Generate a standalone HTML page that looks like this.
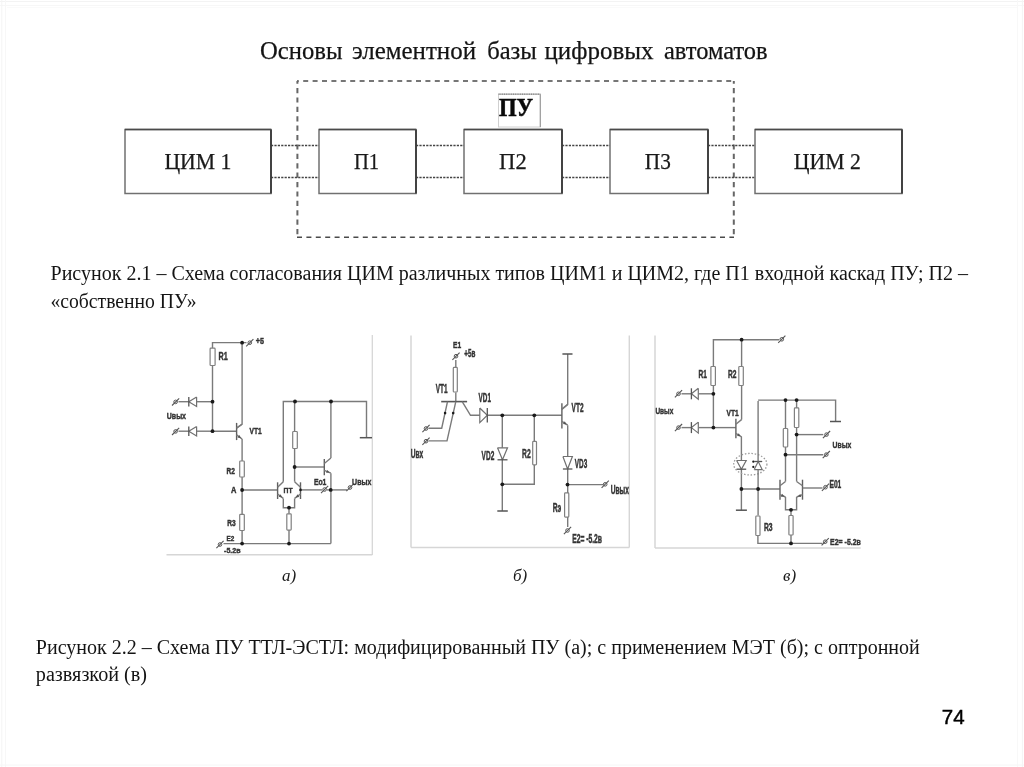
<!DOCTYPE html><html><head><meta charset="utf-8"><style>html,body{margin:0;padding:0;background:#fff;}body{width:1024px;height:767px;overflow:hidden;}svg{display:block;filter:grayscale(1);}</style></head><body>
<svg width="1024" height="767" viewBox="0 0 1024 767">
<rect width="1024" height="767" fill="#fff"/>
<line x1="0.0" y1="1.5" x2="1024.0" y2="1.5" stroke="#f3f3f3" stroke-width="1"/>
<line x1="0.0" y1="5.5" x2="1024.0" y2="5.5" stroke="#f7f7f7" stroke-width="1"/>
<line x1="7.0" y1="7.5" x2="1017.0" y2="7.5" stroke="#fafafa" stroke-width="1"/>
<line x1="1.8" y1="0.0" x2="1.8" y2="767.0" stroke="#f4f4f4" stroke-width="1"/>
<line x1="5.5" y1="0.0" x2="5.5" y2="767.0" stroke="#f7f7f7" stroke-width="1"/>
<line x1="1017.6" y1="0.0" x2="1017.6" y2="767.0" stroke="#f8f8f8" stroke-width="1"/>
<line x1="1022.4" y1="0.0" x2="1022.4" y2="767.0" stroke="#f4f4f4" stroke-width="1"/>
<line x1="0.0" y1="765.0" x2="1024.0" y2="765.0" stroke="#f6f6f6" stroke-width="1"/>
<text x="260.0" y="59.1" font-family='"Liberation Serif", serif' font-size="25.00" font-weight="normal" font-style="normal" fill="#141414" text-anchor="start" textLength="82.5" lengthAdjust="spacingAndGlyphs" stroke="#141414" stroke-width="0.25">Основы</text>
<text x="352.0" y="59.1" font-family='"Liberation Serif", serif' font-size="25.00" font-weight="normal" font-style="normal" fill="#141414" text-anchor="start" textLength="124.0" lengthAdjust="spacingAndGlyphs" stroke="#141414" stroke-width="0.25">элементной</text>
<text x="487.2" y="59.1" font-family='"Liberation Serif", serif' font-size="25.00" font-weight="normal" font-style="normal" fill="#141414" text-anchor="start" textLength="49.6" lengthAdjust="spacingAndGlyphs" stroke="#141414" stroke-width="0.25">базы</text>
<text x="544.5" y="59.1" font-family='"Liberation Serif", serif' font-size="25.00" font-weight="normal" font-style="normal" fill="#141414" text-anchor="start" textLength="109.0" lengthAdjust="spacingAndGlyphs" stroke="#141414" stroke-width="0.25">цифровых</text>
<text x="664.0" y="59.1" font-family='"Liberation Serif", serif' font-size="25.00" font-weight="normal" font-style="normal" fill="#141414" text-anchor="start" textLength="103.5" lengthAdjust="spacingAndGlyphs" stroke="#141414" stroke-width="0.25">автоматов</text>
<line x1="297.0" y1="81.0" x2="734.0" y2="81.0" stroke="#4a4a4a" stroke-width="1.5" stroke-dasharray="5,4.4" stroke-dashoffset="-6.2"/>
<line x1="297.0" y1="237.3" x2="734.0" y2="237.3" stroke="#4a4a4a" stroke-width="1.5" stroke-dasharray="5,4.4"/>
<line x1="297.4" y1="81.0" x2="297.4" y2="237.3" stroke="#666" stroke-width="2.0" stroke-dasharray="5.2,4.2" stroke-dashoffset="2.4"/>
<line x1="733.8" y1="81.0" x2="733.8" y2="237.3" stroke="#666" stroke-width="2.0" stroke-dasharray="5.2,4.2" stroke-dashoffset="2.4"/>
<line x1="271.0" y1="145.4" x2="319.0" y2="145.4" stroke="#444" stroke-width="1.5" stroke-dasharray="2.2,1.2"/>
<line x1="271.0" y1="177.6" x2="319.0" y2="177.6" stroke="#444" stroke-width="1.5" stroke-dasharray="2.2,1.2"/>
<line x1="416.0" y1="145.4" x2="464.0" y2="145.4" stroke="#444" stroke-width="1.5" stroke-dasharray="2.2,1.2"/>
<line x1="416.0" y1="177.6" x2="464.0" y2="177.6" stroke="#444" stroke-width="1.5" stroke-dasharray="2.2,1.2"/>
<line x1="562.0" y1="145.4" x2="610.0" y2="145.4" stroke="#444" stroke-width="1.5" stroke-dasharray="2.2,1.2"/>
<line x1="562.0" y1="177.6" x2="610.0" y2="177.6" stroke="#444" stroke-width="1.5" stroke-dasharray="2.2,1.2"/>
<line x1="708.0" y1="145.4" x2="755.0" y2="145.4" stroke="#444" stroke-width="1.5" stroke-dasharray="2.2,1.2"/>
<line x1="708.0" y1="177.6" x2="755.0" y2="177.6" stroke="#444" stroke-width="1.5" stroke-dasharray="2.2,1.2"/>
<rect x="125.0" y="129.5" width="146.0" height="64.0" stroke="#707070" stroke-width="1.5" fill="#fff"/>
<line x1="271.0" y1="129.5" x2="271.0" y2="193.5" stroke="#3a3a3a" stroke-width="1.8"/>
<line x1="125.0" y1="129.5" x2="271.0" y2="129.5" stroke="#4a4a4a" stroke-width="1.6"/>
<rect x="319.0" y="129.5" width="97.0" height="64.0" stroke="#707070" stroke-width="1.5" fill="#fff"/>
<line x1="416.0" y1="129.5" x2="416.0" y2="193.5" stroke="#3a3a3a" stroke-width="1.8"/>
<line x1="319.0" y1="129.5" x2="416.0" y2="129.5" stroke="#4a4a4a" stroke-width="1.6"/>
<rect x="464.0" y="129.5" width="98.0" height="64.0" stroke="#707070" stroke-width="1.5" fill="#fff"/>
<line x1="562.0" y1="129.5" x2="562.0" y2="193.5" stroke="#3a3a3a" stroke-width="1.8"/>
<line x1="464.0" y1="129.5" x2="562.0" y2="129.5" stroke="#4a4a4a" stroke-width="1.6"/>
<rect x="610.0" y="129.5" width="98.0" height="64.0" stroke="#707070" stroke-width="1.5" fill="#fff"/>
<line x1="708.0" y1="129.5" x2="708.0" y2="193.5" stroke="#3a3a3a" stroke-width="1.8"/>
<line x1="610.0" y1="129.5" x2="708.0" y2="129.5" stroke="#4a4a4a" stroke-width="1.6"/>
<rect x="755.0" y="129.5" width="147.0" height="64.0" stroke="#707070" stroke-width="1.5" fill="#fff"/>
<line x1="902.0" y1="129.5" x2="902.0" y2="193.5" stroke="#3a3a3a" stroke-width="1.8"/>
<line x1="755.0" y1="129.5" x2="902.0" y2="129.5" stroke="#4a4a4a" stroke-width="1.6"/>
<rect x="498.5" y="94.2" width="41.8" height="32.8" stroke="#d0d0d0" stroke-width="1" fill="#fff"/>
<line x1="498.5" y1="94.2" x2="540.3" y2="94.2" stroke="#777" stroke-width="1.3" stroke-dasharray="1.2,0.6"/>
<line x1="540.3" y1="94.2" x2="540.3" y2="127.0" stroke="#999" stroke-width="1.1"/>
<text x="498.9" y="115.6" font-family='"Liberation Serif", serif' font-size="24.30" font-weight="bold" font-style="normal" fill="#0a0a0a" text-anchor="start" textLength="34.2" lengthAdjust="spacingAndGlyphs" stroke="#0a0a0a" stroke-width="0.5">ПУ</text>
<text x="164.4" y="169.3" font-family='"Liberation Serif", serif' font-size="22.50" font-weight="normal" font-style="normal" fill="#1a1a1a" text-anchor="start" textLength="67.0" lengthAdjust="spacingAndGlyphs" stroke="#1a1a1a" stroke-width="0.25">ЦИМ 1</text>
<text x="353.9" y="169.3" font-family='"Liberation Serif", serif' font-size="22.50" font-weight="normal" font-style="normal" fill="#1a1a1a" text-anchor="start" textLength="25.2" lengthAdjust="spacingAndGlyphs" stroke="#1a1a1a" stroke-width="0.25">П1</text>
<text x="499.1" y="169.3" font-family='"Liberation Serif", serif' font-size="22.50" font-weight="normal" font-style="normal" fill="#1a1a1a" text-anchor="start" textLength="27.6" lengthAdjust="spacingAndGlyphs" stroke="#1a1a1a" stroke-width="0.25">П2</text>
<text x="644.8" y="169.3" font-family='"Liberation Serif", serif' font-size="22.50" font-weight="normal" font-style="normal" fill="#1a1a1a" text-anchor="start" textLength="26.0" lengthAdjust="spacingAndGlyphs" stroke="#1a1a1a" stroke-width="0.25">П3</text>
<text x="793.8" y="169.3" font-family='"Liberation Serif", serif' font-size="22.50" font-weight="normal" font-style="normal" fill="#1a1a1a" text-anchor="start" textLength="67.0" lengthAdjust="spacingAndGlyphs" stroke="#1a1a1a" stroke-width="0.25">ЦИМ 2</text>
<text x="50.5" y="280.4" font-family='"Liberation Serif", serif' font-size="20.00" font-weight="normal" font-style="normal" fill="#141414" text-anchor="start" textLength="917.5" lengthAdjust="spacingAndGlyphs">Рисунок 2.1 – Схема согласования ЦИМ различных типов ЦИМ1 и ЦИМ2, где П1 входной каскад ПУ; П2 –</text>
<text x="50.5" y="307.5" font-family='"Liberation Serif", serif' font-size="20.00" font-weight="normal" font-style="normal" fill="#141414" text-anchor="start" textLength="146.0" lengthAdjust="spacingAndGlyphs">«собственно ПУ»</text>
<text x="35.8" y="653.5" font-family='"Liberation Serif", serif' font-size="20.00" font-weight="normal" font-style="normal" fill="#141414" text-anchor="start" textLength="884.0" lengthAdjust="spacingAndGlyphs">Рисунок 2.2 – Схема ПУ ТТЛ-ЭСТЛ: модифицированный ПУ (а); с применением МЭТ (б); с оптронной</text>
<text x="35.8" y="680.5" font-family='"Liberation Serif", serif' font-size="20.00" font-weight="normal" font-style="normal" fill="#141414" text-anchor="start" textLength="111.3" lengthAdjust="spacingAndGlyphs">развязкой (в)</text>
<text x="282.0" y="580.8" font-family='"Liberation Serif", serif' font-size="17.00" font-weight="normal" font-style="italic" fill="#1a1a1a" text-anchor="start">а)</text>
<text x="513.0" y="580.8" font-family='"Liberation Serif", serif' font-size="17.00" font-weight="normal" font-style="italic" fill="#1a1a1a" text-anchor="start">б)</text>
<text x="783.0" y="580.8" font-family='"Liberation Serif", serif' font-size="17.00" font-weight="normal" font-style="italic" fill="#1a1a1a" text-anchor="start">в)</text>
<text x="941.8" y="724.4" font-family='"Liberation Sans", sans-serif' font-size="20.50" font-weight="normal" font-style="normal" fill="#000" text-anchor="start" stroke="#000" stroke-width="0.45">74</text>
<line x1="372.3" y1="335.0" x2="372.3" y2="555.0" stroke="#d6d6d6" stroke-width="1.3"/>
<line x1="166.5" y1="554.8" x2="372.3" y2="554.8" stroke="#d6d6d6" stroke-width="1.6"/>
<polyline points="212.5,348.0 212.5,342.6 242.1,342.6 246.5,342.6" stroke="#7a7a7a" stroke-width="1.4" fill="none" stroke-linejoin="miter"/>
<polyline points="242.1,342.6 242.1,424.2 236.6,428.0" stroke="#7a7a7a" stroke-width="1.4" fill="none" stroke-linejoin="miter"/>
<circle cx="249.8" cy="342.7" r="1.8" stroke="#555" stroke-width="1" fill="none"/>
<line x1="246.2" y1="346.3" x2="253.4" y2="339.1" stroke="#555" stroke-width="1.1"/>
<text x="255.7" y="344.1" font-family='"Liberation Sans", sans-serif' font-size="9.50" font-weight="bold" font-style="normal" fill="#333" text-anchor="start" textLength="8.2" lengthAdjust="spacingAndGlyphs" stroke="#333" stroke-width="0.44">+5</text>
<rect x="210.1" y="348.1" width="5.0" height="17.4" stroke="#808080" stroke-width="1.2" fill="#fff" rx="0.8"/>
<text x="218.6" y="360.0" font-family='"Liberation Sans", sans-serif' font-size="11.03" font-weight="bold" font-style="normal" fill="#333" text-anchor="start" textLength="9.2" lengthAdjust="spacingAndGlyphs" stroke="#333" stroke-width="0.47">R1</text>
<polyline points="212.5,366.0 212.5,431.2 236.6,431.2" stroke="#7a7a7a" stroke-width="1.4" fill="none" stroke-linejoin="miter"/>
<polyline points="178.5,401.7 188.8,401.7" stroke="#7a7a7a" stroke-width="1.4" fill="none" stroke-linejoin="miter"/>
<polyline points="196.6,396.9 196.6,406.4 188.8,401.7 196.6,396.9" stroke="#707070" stroke-width="1.2" fill="#fff" stroke-linejoin="miter"/>
<line x1="188.8" y1="396.9" x2="188.8" y2="406.4" stroke="#555" stroke-width="1.3"/>
<polyline points="196.6,401.7 212.5,401.7" stroke="#7a7a7a" stroke-width="1.4" fill="none" stroke-linejoin="miter"/>
<circle cx="175.6" cy="401.9" r="1.8" stroke="#555" stroke-width="1" fill="none"/>
<line x1="172.0" y1="405.5" x2="179.2" y2="398.3" stroke="#555" stroke-width="1.1"/>
<polyline points="178.5,431.2 188.8,431.2" stroke="#7a7a7a" stroke-width="1.4" fill="none" stroke-linejoin="miter"/>
<polyline points="196.6,426.4 196.6,435.9 188.8,431.2 196.6,426.4" stroke="#707070" stroke-width="1.2" fill="#fff" stroke-linejoin="miter"/>
<line x1="188.8" y1="426.4" x2="188.8" y2="435.9" stroke="#555" stroke-width="1.3"/>
<polyline points="196.6,431.2 212.5,431.2" stroke="#7a7a7a" stroke-width="1.4" fill="none" stroke-linejoin="miter"/>
<circle cx="175.6" cy="431.4" r="1.8" stroke="#555" stroke-width="1" fill="none"/>
<line x1="172.0" y1="435.0" x2="179.2" y2="427.8" stroke="#555" stroke-width="1.1"/>
<text x="166.8" y="418.5" font-family='"Liberation Sans", sans-serif' font-size="9.50" font-weight="bold" font-style="normal" fill="#333" text-anchor="start" textLength="19.2" lengthAdjust="spacingAndGlyphs" stroke="#333" stroke-width="0.44">Uвых</text>
<line x1="236.6" y1="422.9" x2="236.6" y2="440.1" stroke="#606060" stroke-width="1.4"/>
<line x1="236.6" y1="428.1" x2="242.1" y2="424.2" stroke="#7a7a7a" stroke-width="1.4"/>
<line x1="236.6" y1="434.9" x2="242.1" y2="439.0" stroke="#7a7a7a" stroke-width="1.4"/>
<polygon points="241.0,438.2 237.5,437.6 239.4,435.0" fill="#555"/>
<text x="249.5" y="433.5" font-family='"Liberation Sans", sans-serif' font-size="9.50" font-weight="bold" font-style="normal" fill="#333" text-anchor="start" textLength="12.2" lengthAdjust="spacingAndGlyphs" stroke="#333" stroke-width="0.44">VT1</text>
<polyline points="242.1,439.0 242.1,543.6" stroke="#7a7a7a" stroke-width="1.4" fill="none" stroke-linejoin="miter"/>
<rect x="239.7" y="461.0" width="4.6" height="16.0" stroke="#808080" stroke-width="1.2" fill="#fff" rx="0.8"/>
<text x="226.6" y="474.2" font-family='"Liberation Sans", sans-serif' font-size="8.38" font-weight="bold" font-style="normal" fill="#333" text-anchor="start" textLength="8.4" lengthAdjust="spacingAndGlyphs" stroke="#333" stroke-width="0.42">R2</text>
<text x="230.9" y="492.9" font-family='"Liberation Sans", sans-serif' font-size="8.24" font-weight="bold" font-style="normal" fill="#333" text-anchor="start" textLength="5.4" lengthAdjust="spacingAndGlyphs" stroke="#333" stroke-width="0.41">A</text>
<polyline points="242.1,490.0 277.6,490.0" stroke="#7a7a7a" stroke-width="1.4" fill="none" stroke-linejoin="miter"/>
<rect x="239.7" y="514.4" width="4.6" height="16.1" stroke="#808080" stroke-width="1.2" fill="#fff" rx="0.8"/>
<text x="227.2" y="526.1" font-family='"Liberation Sans", sans-serif' font-size="8.24" font-weight="bold" font-style="normal" fill="#333" text-anchor="start" textLength="8.4" lengthAdjust="spacingAndGlyphs" stroke="#333" stroke-width="0.41">R3</text>
<text x="226.6" y="540.9" font-family='"Liberation Sans", sans-serif' font-size="8.10" font-weight="bold" font-style="normal" fill="#333" text-anchor="start" textLength="7.8" lengthAdjust="spacingAndGlyphs" stroke="#333" stroke-width="0.41">E2</text>
<text x="224.1" y="552.7" font-family='"Liberation Sans", sans-serif' font-size="8.10" font-weight="bold" font-style="normal" fill="#333" text-anchor="start" textLength="16.5" lengthAdjust="spacingAndGlyphs" stroke="#333" stroke-width="0.41">-5.2в</text>
<circle cx="220.0" cy="544.5" r="1.8" stroke="#555" stroke-width="1" fill="none"/>
<line x1="216.4" y1="548.1" x2="223.6" y2="540.9" stroke="#555" stroke-width="1.1"/>
<polyline points="223.5,543.6 330.9,543.6" stroke="#7a7a7a" stroke-width="1.4" fill="none" stroke-linejoin="miter"/>
<line x1="277.6" y1="482.3" x2="277.6" y2="499.0" stroke="#606060" stroke-width="1.4"/>
<line x1="277.6" y1="487.3" x2="283.3" y2="481.7" stroke="#7a7a7a" stroke-width="1.4"/>
<line x1="277.6" y1="494.0" x2="283.3" y2="498.4" stroke="#7a7a7a" stroke-width="1.4"/>
<polygon points="282.2,497.5 278.6,496.8 280.6,494.3" fill="#555"/>
<line x1="300.5" y1="482.3" x2="300.5" y2="499.0" stroke="#606060" stroke-width="1.4"/>
<line x1="300.5" y1="487.3" x2="294.6" y2="481.7" stroke="#7a7a7a" stroke-width="1.4"/>
<line x1="300.5" y1="494.0" x2="294.6" y2="498.4" stroke="#7a7a7a" stroke-width="1.4"/>
<polygon points="295.8,497.5 297.4,494.3 299.3,496.9" fill="#555"/>
<polyline points="283.3,498.4 283.3,507.7 294.6,507.7 294.6,498.4" stroke="#7a7a7a" stroke-width="1.4" fill="none" stroke-linejoin="miter"/>
<polyline points="289.0,507.7 289.0,543.6" stroke="#7a7a7a" stroke-width="1.4" fill="none" stroke-linejoin="miter"/>
<rect x="286.8" y="513.8" width="4.4" height="16.3" stroke="#808080" stroke-width="1.2" fill="#fff" rx="0.8"/>
<text x="283.6" y="493.2" font-family='"Liberation Sans", sans-serif' font-size="8.10" font-weight="bold" font-style="normal" fill="#333" text-anchor="start" textLength="9.0" lengthAdjust="spacingAndGlyphs" stroke="#333" stroke-width="0.41">ПТ</text>
<polyline points="283.3,481.7 283.3,401.5 366.5,401.5 366.5,437.7" stroke="#7a7a7a" stroke-width="1.4" fill="none" stroke-linejoin="miter"/>
<line x1="359.8" y1="437.7" x2="372.0" y2="437.7" stroke="#555" stroke-width="1.5"/>
<polyline points="294.6,401.5 294.6,481.7" stroke="#7a7a7a" stroke-width="1.4" fill="none" stroke-linejoin="miter"/>
<rect x="292.7" y="431.5" width="4.6" height="17.0" stroke="#808080" stroke-width="1.2" fill="#fff" rx="0.8"/>
<polyline points="294.6,467.0 324.3,467.0" stroke="#7a7a7a" stroke-width="1.4" fill="none" stroke-linejoin="miter"/>
<line x1="324.3" y1="459.0" x2="324.3" y2="475.2" stroke="#606060" stroke-width="1.4"/>
<line x1="324.3" y1="463.5" x2="330.9" y2="458.0" stroke="#7a7a7a" stroke-width="1.4"/>
<line x1="324.3" y1="470.3" x2="330.9" y2="473.2" stroke="#7a7a7a" stroke-width="1.4"/>
<polygon points="329.6,472.6 326.0,472.8 327.3,469.9" fill="#555"/>
<polyline points="330.9,458.0 330.9,401.5" stroke="#7a7a7a" stroke-width="1.4" fill="none" stroke-linejoin="miter"/>
<polyline points="330.9,473.2 330.9,543.6" stroke="#7a7a7a" stroke-width="1.4" fill="none" stroke-linejoin="miter"/>
<polyline points="300.5,489.9 322.0,489.9" stroke="#7a7a7a" stroke-width="1.4" fill="none" stroke-linejoin="miter"/>
<polyline points="327.0,489.9 347.0,489.9" stroke="#7a7a7a" stroke-width="1.4" fill="none" stroke-linejoin="miter"/>
<circle cx="324.6" cy="489.5" r="1.8" stroke="#555" stroke-width="1" fill="none"/>
<line x1="321.0" y1="493.1" x2="328.2" y2="485.9" stroke="#555" stroke-width="1.1"/>
<circle cx="350.0" cy="487.5" r="1.8" stroke="#555" stroke-width="1" fill="none"/>
<line x1="346.4" y1="491.1" x2="353.6" y2="483.9" stroke="#555" stroke-width="1.1"/>
<text x="313.9" y="484.9" font-family='"Liberation Sans", sans-serif' font-size="9.22" font-weight="bold" font-style="normal" fill="#333" text-anchor="start" textLength="12.5" lengthAdjust="spacingAndGlyphs" stroke="#333" stroke-width="0.43">Eо1</text>
<text x="352.1" y="484.5" font-family='"Liberation Sans", sans-serif' font-size="9.22" font-weight="bold" font-style="normal" fill="#333" text-anchor="start" textLength="19.2" lengthAdjust="spacingAndGlyphs" stroke="#333" stroke-width="0.43">Uвых</text>
<line x1="411.0" y1="335.5" x2="411.0" y2="547.5" stroke="#d6d6d6" stroke-width="1.5"/>
<line x1="411.0" y1="547.5" x2="629.3" y2="547.5" stroke="#d6d6d6" stroke-width="1.6"/>
<line x1="629.3" y1="335.5" x2="629.3" y2="547.5" stroke="#d6d6d6" stroke-width="1.4"/>
<text x="453.1" y="347.7" font-family='"Liberation Sans", sans-serif' font-size="8.94" font-weight="bold" font-style="normal" fill="#333" text-anchor="start" textLength="8.1" lengthAdjust="spacingAndGlyphs" stroke="#333" stroke-width="0.43">E1</text>
<text x="464.3" y="356.8" font-family='"Liberation Sans", sans-serif' font-size="10.20" font-weight="bold" font-style="normal" fill="#333" text-anchor="start" textLength="11.1" lengthAdjust="spacingAndGlyphs" stroke="#333" stroke-width="0.45">+5в</text>
<circle cx="456.0" cy="356.2" r="1.8" stroke="#555" stroke-width="1" fill="none"/>
<line x1="452.4" y1="359.8" x2="459.6" y2="352.6" stroke="#555" stroke-width="1.1"/>
<polyline points="455.8,360.0 455.8,367.0" stroke="#7a7a7a" stroke-width="1.4" fill="none" stroke-linejoin="miter"/>
<rect x="453.3" y="367.4" width="4.0" height="24.6" stroke="#808080" stroke-width="1.2" fill="#fff" rx="0.8"/>
<polyline points="455.8,392.5 455.8,401.6" stroke="#7a7a7a" stroke-width="1.4" fill="none" stroke-linejoin="miter"/>
<text x="435.7" y="392.9" font-family='"Liberation Sans", sans-serif' font-size="12.71" font-weight="bold" font-style="normal" fill="#333" text-anchor="start" textLength="11.8" lengthAdjust="spacingAndGlyphs" stroke="#333" stroke-width="0.50">VT1</text>
<line x1="441.2" y1="401.6" x2="467.1" y2="401.6" stroke="#555" stroke-width="1.6"/>
<polyline points="462.2,401.6 470.5,415.3 561.9,415.3" stroke="#7a7a7a" stroke-width="1.4" fill="none" stroke-linejoin="miter"/>
<polyline points="447.5,401.6 441.7,428.2 428.5,428.2" stroke="#7a7a7a" stroke-width="1.4" fill="none" stroke-linejoin="miter"/>
<polyline points="455.8,401.6 447.0,440.9 428.5,440.9" stroke="#7a7a7a" stroke-width="1.4" fill="none" stroke-linejoin="miter"/>
<circle cx="426.0" cy="428.5" r="1.8" stroke="#555" stroke-width="1" fill="none"/>
<line x1="422.4" y1="432.1" x2="429.6" y2="424.9" stroke="#555" stroke-width="1.1"/>
<circle cx="426.0" cy="441.2" r="1.8" stroke="#555" stroke-width="1" fill="none"/>
<line x1="422.4" y1="444.8" x2="429.6" y2="437.6" stroke="#555" stroke-width="1.1"/>
<text x="410.8" y="458.4" font-family='"Liberation Sans", sans-serif' font-size="12.85" font-weight="bold" font-style="normal" fill="#333" text-anchor="start" textLength="12.5" lengthAdjust="spacingAndGlyphs" stroke="#333" stroke-width="0.51">Uвх</text>
<polyline points="479.8,408.0 479.8,422.6 487.3,415.3 479.8,408.0" stroke="#707070" stroke-width="1.2" fill="#fff" stroke-linejoin="miter"/>
<line x1="487.3" y1="408.0" x2="487.3" y2="422.6" stroke="#555" stroke-width="1.3"/>
<text x="478.6" y="401.5" font-family='"Liberation Sans", sans-serif' font-size="12.71" font-weight="bold" font-style="normal" fill="#333" text-anchor="start" textLength="12.3" lengthAdjust="spacingAndGlyphs" stroke="#333" stroke-width="0.50">VD1</text>
<polyline points="502.3,415.3 502.3,511.0" stroke="#7a7a7a" stroke-width="1.4" fill="none" stroke-linejoin="miter"/>
<line x1="497.3" y1="511.0" x2="507.8" y2="511.0" stroke="#555" stroke-width="1.5"/>
<polyline points="497.5,447.8 507.5,447.8 502.5,459.8 497.5,447.8" stroke="#707070" stroke-width="1.2" fill="#fff" stroke-linejoin="miter"/>
<line x1="497.5" y1="459.8" x2="507.5" y2="459.8" stroke="#555" stroke-width="1.3"/>
<text x="481.6" y="459.9" font-family='"Liberation Sans", sans-serif' font-size="13.41" font-weight="bold" font-style="normal" fill="#333" text-anchor="start" textLength="12.7" lengthAdjust="spacingAndGlyphs" stroke="#333" stroke-width="0.52">VD2</text>
<polyline points="534.3,415.3 534.3,484.3 502.3,484.3" stroke="#7a7a7a" stroke-width="1.4" fill="none" stroke-linejoin="miter"/>
<rect x="532.7" y="441.4" width="3.8" height="23.5" stroke="#808080" stroke-width="1.2" fill="#fff" rx="0.8"/>
<text x="522.1" y="458.0" font-family='"Liberation Sans", sans-serif' font-size="12.99" font-weight="bold" font-style="normal" fill="#333" text-anchor="start" textLength="8.7" lengthAdjust="spacingAndGlyphs" stroke="#333" stroke-width="0.51">R2</text>
<polyline points="567.7,354.0 567.7,404.4 561.9,409.0" stroke="#7a7a7a" stroke-width="1.4" fill="none" stroke-linejoin="miter"/>
<line x1="562.4" y1="354.0" x2="572.5" y2="354.0" stroke="#555" stroke-width="1.5"/>
<line x1="561.9" y1="403.3" x2="561.9" y2="428.4" stroke="#606060" stroke-width="1.4"/>
<line x1="561.9" y1="409.6" x2="567.7" y2="404.4" stroke="#7a7a7a" stroke-width="1.4"/>
<line x1="561.9" y1="421.4" x2="567.7" y2="425.2" stroke="#7a7a7a" stroke-width="1.4"/>
<polygon points="566.5,424.4 563.0,424.0 564.8,421.3" fill="#555"/>
<text x="571.6" y="412.1" font-family='"Liberation Sans", sans-serif' font-size="12.15" font-weight="bold" font-style="normal" fill="#333" text-anchor="start" textLength="11.9" lengthAdjust="spacingAndGlyphs" stroke="#333" stroke-width="0.49">VT2</text>
<polyline points="567.7,425.2 567.7,527.0" stroke="#7a7a7a" stroke-width="1.4" fill="none" stroke-linejoin="miter"/>
<polyline points="562.9,456.5 572.4,456.5 567.6,469.0 562.9,456.5" stroke="#707070" stroke-width="1.2" fill="#fff" stroke-linejoin="miter"/>
<line x1="562.9" y1="469.0" x2="572.4" y2="469.0" stroke="#555" stroke-width="1.3"/>
<text x="574.8" y="467.9" font-family='"Liberation Sans", sans-serif' font-size="13.69" font-weight="bold" font-style="normal" fill="#333" text-anchor="start" textLength="12.4" lengthAdjust="spacingAndGlyphs" stroke="#333" stroke-width="0.52">VD3</text>
<polyline points="567.5,484.6 603.0,484.6" stroke="#7a7a7a" stroke-width="1.4" fill="none" stroke-linejoin="miter"/>
<circle cx="605.2" cy="484.3" r="1.8" stroke="#555" stroke-width="1" fill="none"/>
<line x1="601.6" y1="487.9" x2="608.8" y2="480.7" stroke="#555" stroke-width="1.1"/>
<text x="610.8" y="494.0" font-family='"Liberation Sans", sans-serif' font-size="12.15" font-weight="bold" font-style="normal" fill="#333" text-anchor="start" textLength="18.1" lengthAdjust="spacingAndGlyphs" stroke="#333" stroke-width="0.49">Uвых</text>
<rect x="564.6" y="492.9" width="4.2" height="24.2" stroke="#808080" stroke-width="1.2" fill="#fff" rx="0.8"/>
<text x="552.8" y="512.1" font-family='"Liberation Sans", sans-serif' font-size="13.55" font-weight="bold" font-style="normal" fill="#333" text-anchor="start" textLength="8.5" lengthAdjust="spacingAndGlyphs" stroke="#333" stroke-width="0.52">Rэ</text>
<circle cx="567.5" cy="530.5" r="1.8" stroke="#555" stroke-width="1" fill="none"/>
<line x1="563.9" y1="534.1" x2="571.1" y2="526.9" stroke="#555" stroke-width="1.1"/>
<text x="572.2" y="543.4" font-family='"Liberation Sans", sans-serif' font-size="13.13" font-weight="bold" font-style="normal" fill="#333" text-anchor="start" textLength="29.8" lengthAdjust="spacingAndGlyphs" stroke="#333" stroke-width="0.51">E2= -5.2в</text>
<line x1="655.0" y1="335.5" x2="655.0" y2="548.0" stroke="#d6d6d6" stroke-width="1.5"/>
<line x1="655.0" y1="548.0" x2="860.7" y2="548.0" stroke="#d6d6d6" stroke-width="1.6"/>
<polyline points="713.4,366.0 713.4,339.7 779.0,339.7" stroke="#7a7a7a" stroke-width="1.4" fill="none" stroke-linejoin="miter"/>
<circle cx="781.8" cy="339.3" r="1.8" stroke="#555" stroke-width="1" fill="none"/>
<line x1="778.2" y1="342.9" x2="785.4" y2="335.7" stroke="#555" stroke-width="1.1"/>
<polyline points="741.6,339.7 741.6,366.0" stroke="#7a7a7a" stroke-width="1.4" fill="none" stroke-linejoin="miter"/>
<rect x="710.9" y="366.5" width="4.5" height="19.0" stroke="#808080" stroke-width="1.2" fill="#fff" rx="0.8"/>
<rect x="738.8" y="366.5" width="4.5" height="19.0" stroke="#808080" stroke-width="1.2" fill="#fff" rx="0.8"/>
<text x="698.4" y="378.2" font-family='"Liberation Sans", sans-serif' font-size="11.03" font-weight="bold" font-style="normal" fill="#333" text-anchor="start" textLength="8.4" lengthAdjust="spacingAndGlyphs" stroke="#333" stroke-width="0.47">R1</text>
<text x="727.9" y="378.2" font-family='"Liberation Sans", sans-serif' font-size="11.03" font-weight="bold" font-style="normal" fill="#333" text-anchor="start" textLength="8.5" lengthAdjust="spacingAndGlyphs" stroke="#333" stroke-width="0.47">R2</text>
<polyline points="713.4,386.0 713.4,427.6" stroke="#7a7a7a" stroke-width="1.4" fill="none" stroke-linejoin="miter"/>
<polyline points="681.5,393.8 691.4,393.8" stroke="#7a7a7a" stroke-width="1.4" fill="none" stroke-linejoin="miter"/>
<polyline points="698.3,388.3 698.3,399.3 691.4,393.8 698.3,388.3" stroke="#707070" stroke-width="1.2" fill="#fff" stroke-linejoin="miter"/>
<line x1="691.4" y1="388.3" x2="691.4" y2="399.3" stroke="#555" stroke-width="1.3"/>
<polyline points="698.3,393.8 713.4,393.8" stroke="#7a7a7a" stroke-width="1.4" fill="none" stroke-linejoin="miter"/>
<circle cx="678.5" cy="393.8" r="1.8" stroke="#555" stroke-width="1" fill="none"/>
<line x1="674.9" y1="397.4" x2="682.1" y2="390.2" stroke="#555" stroke-width="1.1"/>
<polyline points="681.5,427.6 691.4,427.6" stroke="#7a7a7a" stroke-width="1.4" fill="none" stroke-linejoin="miter"/>
<polyline points="698.3,422.1 698.3,433.1 691.4,427.6 698.3,422.1" stroke="#707070" stroke-width="1.2" fill="#fff" stroke-linejoin="miter"/>
<line x1="691.4" y1="422.1" x2="691.4" y2="433.1" stroke="#555" stroke-width="1.3"/>
<polyline points="698.3,427.6 713.4,427.6" stroke="#7a7a7a" stroke-width="1.4" fill="none" stroke-linejoin="miter"/>
<circle cx="678.5" cy="427.6" r="1.8" stroke="#555" stroke-width="1" fill="none"/>
<line x1="674.9" y1="431.2" x2="682.1" y2="424.0" stroke="#555" stroke-width="1.1"/>
<text x="655.4" y="414.4" font-family='"Liberation Sans", sans-serif' font-size="9.50" font-weight="bold" font-style="normal" fill="#333" text-anchor="start" textLength="17.9" lengthAdjust="spacingAndGlyphs" stroke="#333" stroke-width="0.44">Uвых</text>
<text x="726.6" y="415.5" font-family='"Liberation Sans", sans-serif' font-size="9.50" font-weight="bold" font-style="normal" fill="#333" text-anchor="start" textLength="12.2" lengthAdjust="spacingAndGlyphs" stroke="#333" stroke-width="0.44">VT1</text>
<polyline points="713.4,427.6 735.9,427.6" stroke="#7a7a7a" stroke-width="1.4" fill="none" stroke-linejoin="miter"/>
<line x1="735.9" y1="418.8" x2="735.9" y2="438.2" stroke="#606060" stroke-width="1.4"/>
<line x1="735.9" y1="424.2" x2="741.8" y2="419.4" stroke="#7a7a7a" stroke-width="1.4"/>
<line x1="735.9" y1="433.4" x2="741.8" y2="437.0" stroke="#7a7a7a" stroke-width="1.4"/>
<polygon points="740.6,436.3 737.1,435.9 738.7,433.2" fill="#555"/>
<polyline points="741.6,386.0 741.6,419.4" stroke="#7a7a7a" stroke-width="1.4" fill="none" stroke-linejoin="miter"/>
<polyline points="741.4,437.0 741.4,510.2" stroke="#7a7a7a" stroke-width="1.4" fill="none" stroke-linejoin="miter"/>
<line x1="735.9" y1="510.2" x2="746.9" y2="510.2" stroke="#555" stroke-width="1.5"/>
<ellipse cx="750.3" cy="464.2" rx="16.6" ry="10.8" stroke="#9a9a9a" stroke-width="1.3" fill="none" stroke-dasharray="1.5,1.8"/>
<polyline points="736.6,460.5 746.2,460.5 741.4,469.2 736.6,460.5" stroke="#707070" stroke-width="1.2" fill="#fff" stroke-linejoin="miter"/>
<line x1="736.6" y1="469.2" x2="746.2" y2="469.2" stroke="#555" stroke-width="1.3"/>
<polyline points="754.2,469.6 762.2,469.6 758.2,461.5 754.2,469.6" stroke="#707070" stroke-width="1.2" fill="#fff" stroke-linejoin="miter"/>
<line x1="754.2" y1="461.5" x2="762.2" y2="461.5" stroke="#555" stroke-width="1.3"/>
<polyline points="758.1,401.1 758.1,461.5" stroke="#7a7a7a" stroke-width="1.4" fill="none" stroke-linejoin="miter"/>
<polyline points="758.1,469.6 758.1,515.5" stroke="#7a7a7a" stroke-width="1.4" fill="none" stroke-linejoin="miter"/>
<polyline points="758.1,400.1 835.6,400.1 835.6,421.5" stroke="#7a7a7a" stroke-width="1.4" fill="none" stroke-linejoin="miter"/>
<line x1="830.0" y1="421.5" x2="841.0" y2="421.5" stroke="#555" stroke-width="1.5"/>
<polyline points="785.5,400.1 785.5,481.5" stroke="#7a7a7a" stroke-width="1.4" fill="none" stroke-linejoin="miter"/>
<polyline points="796.6,400.1 796.6,481.5" stroke="#7a7a7a" stroke-width="1.4" fill="none" stroke-linejoin="miter"/>
<rect x="794.4" y="407.9" width="4.4" height="19.6" stroke="#808080" stroke-width="1.2" fill="#fff" rx="0.8"/>
<rect x="783.3" y="428.5" width="4.4" height="18.5" stroke="#808080" stroke-width="1.2" fill="#fff" rx="0.8"/>
<polyline points="796.6,434.6 823.3,434.6" stroke="#7a7a7a" stroke-width="1.4" fill="none" stroke-linejoin="miter"/>
<polyline points="785.5,454.8 823.3,454.8" stroke="#7a7a7a" stroke-width="1.4" fill="none" stroke-linejoin="miter"/>
<circle cx="826.5" cy="434.6" r="1.8" stroke="#555" stroke-width="1" fill="none"/>
<line x1="822.9" y1="438.2" x2="830.1" y2="431.0" stroke="#555" stroke-width="1.1"/>
<circle cx="826.3" cy="454.6" r="1.8" stroke="#555" stroke-width="1" fill="none"/>
<line x1="822.7" y1="458.2" x2="829.9" y2="451.0" stroke="#555" stroke-width="1.1"/>
<text x="832.6" y="448.2" font-family='"Liberation Sans", sans-serif' font-size="9.50" font-weight="bold" font-style="normal" fill="#333" text-anchor="start" textLength="18.7" lengthAdjust="spacingAndGlyphs" stroke="#333" stroke-width="0.44">Uвых</text>
<polyline points="741.4,489.0 780.0,489.0" stroke="#7a7a7a" stroke-width="1.4" fill="none" stroke-linejoin="miter"/>
<line x1="780.0" y1="479.7" x2="780.0" y2="499.7" stroke="#606060" stroke-width="1.4"/>
<line x1="780.0" y1="485.7" x2="785.5" y2="481.5" stroke="#7a7a7a" stroke-width="1.4"/>
<line x1="780.0" y1="494.7" x2="785.5" y2="497.0" stroke="#7a7a7a" stroke-width="1.4"/>
<polygon points="784.4,496.5 780.8,496.8 782.1,493.8" fill="#555"/>
<line x1="802.5" y1="479.7" x2="802.5" y2="499.7" stroke="#606060" stroke-width="1.4"/>
<line x1="802.5" y1="485.7" x2="796.6" y2="481.5" stroke="#7a7a7a" stroke-width="1.4"/>
<line x1="802.5" y1="494.7" x2="796.6" y2="497.0" stroke="#7a7a7a" stroke-width="1.4"/>
<polygon points="797.8,496.5 800.2,493.9 801.3,496.9" fill="#555"/>
<polyline points="785.5,497.0 785.5,509.8 796.6,509.8 796.6,497.0" stroke="#7a7a7a" stroke-width="1.4" fill="none" stroke-linejoin="miter"/>
<polyline points="802.5,488.0 822.5,488.0" stroke="#7a7a7a" stroke-width="1.4" fill="none" stroke-linejoin="miter"/>
<circle cx="825.5" cy="487.2" r="1.8" stroke="#555" stroke-width="1" fill="none"/>
<line x1="821.9" y1="490.8" x2="829.1" y2="483.6" stroke="#555" stroke-width="1.1"/>
<text x="829.5" y="488.2" font-family='"Liberation Sans", sans-serif' font-size="10.61" font-weight="bold" font-style="normal" fill="#333" text-anchor="start" textLength="11.8" lengthAdjust="spacingAndGlyphs" stroke="#333" stroke-width="0.46">E01</text>
<polyline points="791.0,509.8 791.0,543.4" stroke="#7a7a7a" stroke-width="1.4" fill="none" stroke-linejoin="miter"/>
<rect x="788.9" y="515.5" width="4.2" height="19.5" stroke="#808080" stroke-width="1.2" fill="#fff" rx="0.8"/>
<rect x="755.8" y="516.0" width="4.2" height="19.5" stroke="#808080" stroke-width="1.2" fill="#fff" rx="0.8"/>
<text x="763.9" y="530.6" font-family='"Liberation Sans", sans-serif' font-size="11.03" font-weight="bold" font-style="normal" fill="#333" text-anchor="start" textLength="8.6" lengthAdjust="spacingAndGlyphs" stroke="#333" stroke-width="0.47">R3</text>
<polyline points="757.9,536.0 757.9,543.4 822.5,543.4" stroke="#7a7a7a" stroke-width="1.4" fill="none" stroke-linejoin="miter"/>
<circle cx="825.2" cy="541.7" r="1.8" stroke="#555" stroke-width="1" fill="none"/>
<line x1="821.6" y1="545.3" x2="828.8" y2="538.1" stroke="#555" stroke-width="1.1"/>
<text x="830.1" y="545.2" font-family='"Liberation Sans", sans-serif' font-size="9.36" font-weight="bold" font-style="normal" fill="#333" text-anchor="start" textLength="30.8" lengthAdjust="spacingAndGlyphs" stroke="#333" stroke-width="0.44">E2= -5.2в</text>
<circle cx="242.1" cy="342.7" r="1.9" fill="#1a1a1a"/>
<circle cx="212.5" cy="401.7" r="1.9" fill="#1a1a1a"/>
<circle cx="212.5" cy="431.2" r="1.9" fill="#1a1a1a"/>
<circle cx="242.1" cy="490.0" r="1.9" fill="#1a1a1a"/>
<circle cx="242.1" cy="543.6" r="1.9" fill="#1a1a1a"/>
<circle cx="289.0" cy="543.6" r="1.9" fill="#1a1a1a"/>
<circle cx="289.0" cy="507.7" r="1.9" fill="#1a1a1a"/>
<circle cx="295.0" cy="401.5" r="1.9" fill="#1a1a1a"/>
<circle cx="331.0" cy="401.5" r="1.9" fill="#1a1a1a"/>
<circle cx="294.6" cy="467.0" r="1.9" fill="#1a1a1a"/>
<circle cx="300.5" cy="489.9" r="1.3" fill="#1a1a1a"/>
<circle cx="330.7" cy="489.9" r="1.9" fill="#1a1a1a"/>
<circle cx="445.1" cy="413.1" r="1.3" fill="#1a1a1a"/>
<circle cx="453.2" cy="413.1" r="1.3" fill="#1a1a1a"/>
<circle cx="502.3" cy="415.3" r="1.9" fill="#1a1a1a"/>
<circle cx="534.3" cy="415.3" r="1.9" fill="#1a1a1a"/>
<circle cx="502.3" cy="484.3" r="1.9" fill="#1a1a1a"/>
<circle cx="567.5" cy="484.6" r="1.9" fill="#1a1a1a"/>
<circle cx="741.6" cy="339.7" r="1.9" fill="#1a1a1a"/>
<circle cx="713.4" cy="393.8" r="1.9" fill="#1a1a1a"/>
<circle cx="713.4" cy="427.6" r="1.9" fill="#1a1a1a"/>
<circle cx="753.3" cy="461.7" r="1.1" fill="#1a1a1a"/>
<circle cx="753.3" cy="466.9" r="1.1" fill="#1a1a1a"/>
<circle cx="785.5" cy="400.1" r="1.9" fill="#1a1a1a"/>
<circle cx="796.6" cy="400.1" r="1.9" fill="#1a1a1a"/>
<circle cx="796.6" cy="434.6" r="1.9" fill="#1a1a1a"/>
<circle cx="785.5" cy="454.7" r="1.9" fill="#1a1a1a"/>
<circle cx="741.4" cy="489.0" r="1.9" fill="#1a1a1a"/>
<circle cx="758.1" cy="489.0" r="1.9" fill="#1a1a1a"/>
<circle cx="791.0" cy="509.8" r="1.9" fill="#1a1a1a"/>
<circle cx="791.0" cy="543.4" r="1.9" fill="#1a1a1a"/>
</svg></body></html>
